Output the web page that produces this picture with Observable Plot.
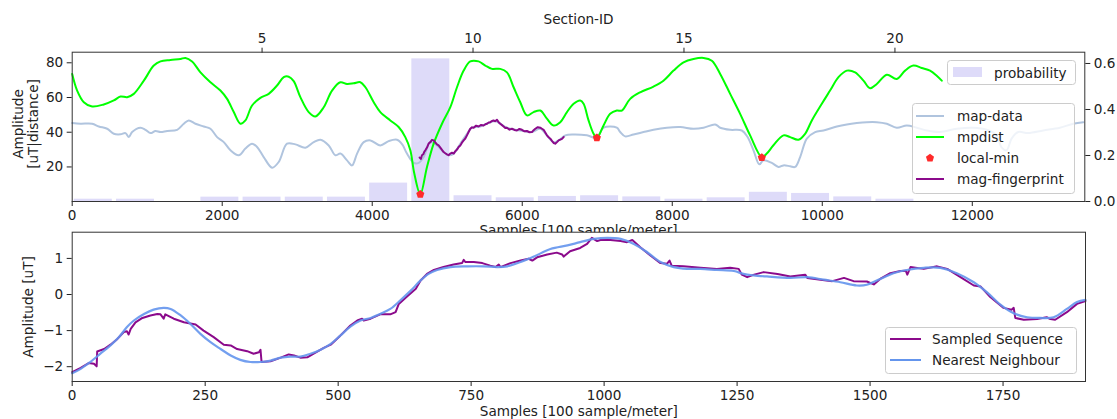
<!DOCTYPE html>
<html><head><meta charset="utf-8">
<script src="https://cdn.jsdelivr.net/npm/d3@7"></script>
<script src="https://cdn.jsdelivr.net/npm/@observablehq/plot@0.6"></script>
<style>
body{margin:0;background:#fff;overflow:hidden;}
#root{position:relative;width:1117px;height:419px;font-family:"DejaVu Sans",sans-serif;}
#root svg.layer{position:absolute;left:0;top:0;}
</style></head>
<body><div id="root"></div>
<script>
// ---------- DATA ----------
const sectionIds = [1,2,3,4,5,6,7,8,9,10,11,12,13,14,15,16,17,18,19,20,21,22,23,24];
const probability = [0.010,0.010,0,0.019,0.019,0.019,0.019,0.080,0.620,0.025,0.016,0.022,0.025,0.020,0.010,0.016,0.040,0.035,0.020,0.010,0,0,0,0];
const sectionTicks = [5,10,15,20];
const probTicks = [0,0.2,0.4,0.6];
const sampleTicks = [0,2000,4000,6000,8000,10000,12000];
const ampTicks = [20,40,60,80];
const seqTicks = [0,250,500,750,1000,1250,1500,1750];
const seqAmpTicks = [-2,-1,0,1];

// [sample, amplitude]
const mapData = [[0,45.3],[111,44.9],[266,44.9],[355,43.3],[466,42.0],[555,39.1],[644,38.8],[710,39.5],[755,37.2],[799,40.1],[910,42.6],[977,41.4],[1044,39.5],[1110,40.7],[1177,40.1],[1266,40.7],[1399,41.4],[1488,44.9],[1554,46.8],[1643,44.9],[1754,43.3],[1843,42.0],[1932,37.2],[2021,34.3],[2110,29.6],[2220,26.7],[2309,30.6],[2398,33.4],[2465,31.5],[2553,25.7],[2665,19.6],[2754,22.9],[2864,33.4],[2976,33.0],[3109,31.1],[3220,34.3],[3309,35.7],[3420,32.4],[3509,26.7],[3575,27.7],[3664,23.8],[3731,20.9],[3798,27.7],[3887,34.3],[3976,35.3],[4108,32.4],[4219,34.9],[4330,35.7],[4400,33.0],[4463,27.7],[4552,22.3],[4619,22.3],[4686,25.7],[4775,34.3],[4863,32.4],[4952,28.6],[5019,26.7],[5086,27.7],[5174,33.4],[5263,39.1],[5330,42.6],[5441,43.3],[5530,44.9],[5641,46.4],[5707,44.9],[5796,42.6],[5907,41.4],[6018,40.7],[6129,40.1],[6240,42.0],[6329,38.2],[6418,34.3],[6485,35.3],[6574,38.2],[6685,38.7],[6862,38.2],[6995,36.8],[7084,42.6],[7261,42.6],[7306,40.1],[7372,37.6],[7483,38.7],[7617,40.1],[7750,41.4],[7928,42.6],[8105,43.0],[8283,42.0],[8417,42.6],[8572,44.5],[8639,42.6],[8772,41.4],[8928,41.0],[9000,37.5],[9083,29.6],[9160,21.5],[9216,23.8],[9327,22.3],[9416,20.0],[9483,20.9],[9572,20.4],[9638,20.0],[9705,25.7],[9794,36.3],[9905,40.1],[10016,41.0],[10194,43.3],[10327,44.5],[10460,45.3],[10593,45.8],[10727,45.8],[10860,44.9],[10993,42.6],[11127,43.9],[11260,42.6],[11393,41.0],[11570,40.1],[11793,42.0],[12015,42.6],[12193,41.4],[12326,38.2],[12390,31.3],[12457,29.6],[12524,36.3],[12613,40.1],[12746,39.5],[12946,41.0],[13168,42.6],[13346,44.9],[13480,45.8]];

const mpdist = [[0,73.6],[66,64.0],[155,57.3],[266,54.8],[421,56.0],[555,58.3],[644,60.6],[732,60.2],[821,62.1],[955,69.7],[1088,78.4],[1177,80.8],[1310,81.6],[1443,82.2],[1510,82.8],[1598,80.8],[1710,74.5],[1843,68.8],[1976,64.0],[2065,59.2],[2154,51.6],[2243,44.9],[2309,46.8],[2398,55.4],[2509,59.8],[2620,62.1],[2731,66.9],[2820,71.7],[2887,72.0],[2953,69.4],[3042,60.2],[3153,51.6],[3242,49.1],[3353,54.4],[3464,64.0],[3575,68.8],[3664,67.8],[3753,68.2],[3842,68.8],[3909,65.9],[4020,57.3],[4108,51.6],[4241,46.8],[4352,43.0],[4441,37.2],[4508,29.6],[4561,16.2],[4641,4.3],[4730,20.0],[4819,33.4],[4930,44.9],[5041,54.4],[5130,65.9],[5219,75.5],[5307,80.8],[5418,80.8],[5507,78.4],[5596,76.5],[5707,76.5],[5796,74.5],[5885,65.9],[5974,57.3],[6063,49.7],[6151,51.6],[6240,52.5],[6329,47.8],[6418,43.9],[6507,45.8],[6596,51.6],[6685,56.4],[6773,58.3],[6818,56.4],[6884,46.8],[6951,39.1],[6995,36.8],[7084,43.9],[7172,50.6],[7261,52.5],[7328,52.5],[7439,59.2],[7572,63.0],[7750,66.3],[7883,69.7],[8017,75.5],[8150,80.3],[8283,82.2],[8417,82.8],[8528,81.2],[8639,73.6],[8772,62.1],[8905,50.6],[9038,38.2],[9194,25.7],[9260,27.7],[9349,32.5],[9483,38.2],[9572,37.2],[9682,35.7],[9771,39.1],[9861,46.8],[9994,56.4],[10104,64.0],[10216,71.7],[10327,75.5],[10438,74.5],[10549,69.7],[10638,65.3],[10727,67.8],[10860,73.1],[10993,70.7],[11104,75.5],[11215,78.4],[11326,77.0],[11437,75.5],[11526,72.6],[11593,69.7]];

const localMin = [[4641,4.3],[6995,36.8],[9194,25.4]];

const fingerprint = [[4632,25.4],[4648,24.6],[4663,26.7],[4680,27.3],[4695,28.9],[4708,29.6],[4730,31.2],[4752,33.5],[4775,34.3],[4797,35.6],[4819,35.3],[4841,34.1],[4863,33.0],[4885,32.4],[4908,31.1],[4930,29.8],[4952,28.6],[4974,27.9],[4996,27.3],[5018,26.8],[5041,27.7],[5063,28.2],[5086,27.7],[5108,29.1],[5130,30.0],[5152,31.5],[5174,32.4],[5196,34.0],[5219,35.3],[5241,36.4],[5263,38.2],[5285,40.1],[5307,42.0],[5330,42.8],[5352,42.6],[5385,43.8],[5418,43.3],[5452,44.2],[5485,43.9],[5508,44.6],[5530,44.9],[5552,45.6],[5574,45.8],[5596,46.5],[5618,46.8],[5640,46.3],[5663,47.2],[5685,45.8],[5707,44.9],[5730,44.1],[5752,43.3],[5774,42.4],[5796,42.6],[5830,41.5],[5863,42.0],[5896,41.3],[5929,41.0],[5962,41.9],[5996,41.4],[6030,40.5],[6063,40.7],[6096,40.0],[6129,40.1],[6152,41.2],[6174,42.0],[6207,42.9],[6240,42.6],[6262,42.0],[6285,41.4],[6307,39.8],[6329,38.2],[6352,37.1],[6374,36.3],[6396,35.0],[6418,33.8],[6440,33.4],[6463,34.3],[6485,35.3],[6507,35.7],[6530,36.2],[6552,37.2]];

// [sample, amplitude uT]
const sampled = [[0,-2.15],[16,-2.03],[31,-1.90],[41,-1.92],[46,-1.99],[47,-1.58],[60,-1.51],[72,-1.39],[85,-1.23],[97,-1.04],[103,-1.02],[106,-1.11],[110,-0.95],[119,-0.77],[132,-0.65],[147,-0.58],[160,-0.54],[166,-0.55],[172,-0.67],[175,-0.55],[191,-0.67],[210,-0.77],[232,-0.83],[247,-1.00],[266,-1.18],[285,-1.39],[298,-1.41],[310,-1.51],[329,-1.57],[341,-1.64],[351,-1.60],[354,-1.53],[356,-1.87],[373,-1.85],[392,-1.75],[407,-1.66],[417,-1.69],[429,-1.75],[442,-1.74],[454,-1.64],[473,-1.48],[486,-1.39],[504,-1.14],[523,-0.86],[536,-0.72],[545,-0.67],[548,-0.72],[561,-0.67],[579,-0.55],[598,-0.55],[608,-0.49],[614,-0.26],[630,-0.05],[646,0.16],[655,0.39],[667,0.57],[680,0.68],[698,0.76],[717,0.83],[733,0.87],[736,0.96],[739,0.90],[755,0.90],[771,0.87],[786,0.80],[796,0.76],[802,0.83],[805,0.76],[824,0.87],[843,0.94],[858,0.99],[865,0.94],[874,1.03],[893,1.11],[911,1.16],[921,1.11],[924,1.05],[936,1.20],[955,1.29],[968,1.40],[977,1.57],[987,1.48],[993,1.51],[1012,1.51],[1031,1.48],[1043,1.45],[1053,1.51],[1068,1.31],[1087,1.08],[1106,0.87],[1118,0.85],[1123,0.94],[1127,0.80],[1149,0.78],[1181,0.74],[1212,0.71],[1237,0.74],[1253,0.71],[1259,0.55],[1269,0.48],[1282,0.55],[1300,0.62],[1326,0.57],[1350,0.50],[1378,0.55],[1382,0.46],[1407,0.41],[1429,0.37],[1451,0.46],[1469,0.37],[1494,0.36],[1507,0.28],[1519,0.43],[1538,0.59],[1557,0.65],[1567,0.66],[1570,0.55],[1576,0.76],[1601,0.71],[1626,0.78],[1645,0.71],[1670,0.48],[1695,0.25],[1708,0.22],[1726,-0.07],[1751,-0.37],[1766,-0.42],[1770,-0.37],[1773,-0.65],[1789,-0.70],[1814,-0.68],[1832,-0.63],[1839,-0.68],[1848,-0.70],[1870,-0.49],[1889,-0.26],[1905,-0.18]];

const nearest = [[0,-2.18],[16,-2.06],[34,-1.87],[53,-1.64],[72,-1.41],[88,-1.18],[103,-0.90],[116,-0.72],[135,-0.54],[153,-0.42],[172,-0.37],[185,-0.40],[204,-0.58],[222,-0.81],[241,-1.09],[260,-1.32],[279,-1.51],[298,-1.69],[316,-1.81],[335,-1.87],[354,-1.87],[373,-1.83],[392,-1.75],[410,-1.72],[429,-1.72],[448,-1.64],[467,-1.53],[486,-1.37],[504,-1.14],[523,-0.89],[542,-0.72],[561,-0.65],[579,-0.54],[598,-0.40],[617,-0.16],[636,0.10],[655,0.39],[670,0.57],[686,0.68],[711,0.76],[743,0.78],[774,0.78],[799,0.76],[818,0.78],[843,0.90],[868,1.05],[899,1.26],[931,1.36],[955,1.45],[981,1.54],[1006,1.57],[1031,1.54],[1056,1.40],[1081,1.17],[1106,0.90],[1131,0.76],[1156,0.71],[1181,0.71],[1212,0.68],[1244,0.65],[1262,0.57],[1281,0.53],[1306,0.50],[1350,0.46],[1382,0.48],[1413,0.41],[1444,0.34],[1475,0.25],[1494,0.27],[1519,0.43],[1544,0.59],[1569,0.68],[1601,0.74],[1632,0.74],[1663,0.59],[1695,0.34],[1720,0.06],[1745,-0.28],[1770,-0.52],[1795,-0.63],[1820,-0.65],[1845,-0.63],[1870,-0.40],[1889,-0.21],[1905,-0.15]];

// ---------- STYLE / LAYOUT ----------
const W = 1117, H = 419;
const FS = 13.6;
const ink = "#222";
const C = {bars:"#dedbf9", map:"#b0c4de", mpdist:"#00ff00", minDot:"#ff2a2a", fp:"#8b0a8b", seq:"#8b0a8b", nn:"cornflowerblue"};
const baseStyle = {background:"transparent", fontFamily:"'DejaVu Sans', sans-serif", fontSize: FS+"px", color: ink, overflow:"visible"};
const topM = {marginLeft:71.7, marginRight:W-1084.3, marginTop:51.7, marginBottom:H-201};
const botM = {marginLeft:71.7, marginRight:W-1085, marginTop:231.7, marginBottom:H-381};
const intFmt = d => (d < 0 ? "\u2212" : "") + Math.abs(d);

const pentagon = {draw(ctx, size){const r=Math.sqrt(size/Math.PI)*1.12;for(let i=0;i<5;i++){const a=-Math.PI/2+i*2*Math.PI/5;const x=r*Math.cos(a),y=r*Math.sin(a);i?ctx.lineTo(x,y):ctx.moveTo(x,y);}ctx.closePath();}};

const root = document.getElementById("root");
function add(svg){svg.classList.add("layer");root.appendChild(svg);return svg;}

// Layer A: probability bars (right axis) + Section-ID axis (top)
const probRows = sectionIds.map((id,i)=>({id, p:probability[i]}));
add(Plot.plot({
  width:W, height:H, ...topM, style:baseStyle,
  x:{domain:[0.5,24.5]}, y:{domain:[0,0.649]},
  marks:[
    Plot.rect(probRows,{x1:d=>d.id-0.45, x2:d=>d.id+0.45, y1:0, y2:"p", fill:C.bars}),
    Plot.axisX({anchor:"top", ticks:sectionTicks, tickFormat:intFmt, tickSize:5, tickPadding:4, label:null}),
    Plot.axisY({anchor:"right", ticks:probTicks, tickFormat:d3.format(".1f"), tickSize:5, tickPadding:4, label:null}),
    Plot.text(["Section-ID"],{text:d=>d, frameAnchor:"top", dy:-32.7, lineAnchor:"middle", fontSize:FS, fill:ink})
  ]
}));

// Layer B: amplitude lines (left axis) + samples axis (bottom)
add(Plot.plot({
  width:W, height:H, ...topM, style:baseStyle,
  x:{domain:[0,13500]}, y:{domain:[0.1,86.1]},
  marks:[
    Plot.line(mapData,{x:d=>d[0], y:d=>d[1], stroke:C.map, strokeWidth:2, curve:"catmull-rom"}),
    Plot.line(mpdist,{x:d=>d[0], y:d=>d[1], stroke:C.mpdist, strokeWidth:2, curve:"catmull-rom"}),
    Plot.line(fingerprint,{x:d=>d[0], y:d=>d[1], stroke:C.fp, strokeWidth:2}),
    Plot.dot(localMin,{x:d=>d[0], y:d=>d[1], symbol:pentagon, r:3.8, fill:C.minDot, stroke:"none"}),
    Plot.axisX({ticks:sampleTicks, tickFormat:intFmt, tickSize:5, tickPadding:4, label:null}),
    Plot.axisY({ticks:ampTicks, tickFormat:intFmt, tickSize:5, tickPadding:4, label:null}),
    Plot.text(["Samples [100 sample/meter]"],{text:d=>d, frameAnchor:"bottom", dy:29, lineAnchor:"middle", fontSize:FS, fill:ink}),
    Plot.frame({stroke:"#333"})
  ]
}));

// Layer C: bottom panel
add(Plot.plot({
  width:W, height:H, ...botM, style:baseStyle,
  x:{domain:[0,1905]}, y:{domain:[-2.41,1.726]},
  marks:[
    Plot.frame({fill:"white", stroke:"none"}),
    Plot.line(sampled,{x:d=>d[0], y:d=>d[1], stroke:C.seq, strokeWidth:2}),
    Plot.line(nearest,{x:d=>d[0], y:d=>d[1], stroke:C.nn, strokeWidth:2.2, strokeOpacity:0.9, curve:"catmull-rom"}),
    Plot.axisX({ticks:seqTicks, tickFormat:intFmt, tickSize:5, tickPadding:4, label:null}),
    Plot.axisY({ticks:seqAmpTicks, tickFormat:intFmt, tickSize:5, tickPadding:4, label:null}),
    Plot.text(["Samples [100 sample/meter]"],{text:d=>d, frameAnchor:"bottom", dy:30, lineAnchor:"middle", fontSize:FS, fill:ink}),
    Plot.frame({stroke:"#333"})
  ]
}));

// Overlay: rotated y-axis titles and legends
const over = d3.create("svg").attr("width",W).attr("height",H).attr("class","layer")
  .style("font-family","'DejaVu Sans', sans-serif").style("font-size",FS+"px").style("overflow","visible");
function vtitle(x,y,t){over.append("text").attr("transform",`translate(${x},${y}) rotate(-90)`)
  .attr("text-anchor","middle").attr("dominant-baseline","central").attr("fill",ink).text(t);}
vtitle(18.3,124,"Amplitude");
vtitle(33.3,124,"[uT|distance]");
vtitle(28.3,307,"Amplitude [uT]");

function box(x,y,w,h){over.append("rect").attr("x",x).attr("y",y).attr("width",w).attr("height",h).attr("rx",3)
  .attr("fill","white").attr("fill-opacity",0.8).attr("stroke","#cccccc").attr("stroke-width",1);}
function label(x,y,t){over.append("text").attr("x",x).attr("y",y).attr("dominant-baseline","central").attr("fill",ink).text(t);}
function lineSw(x1,x2,y,c,w){over.append("line").attr("x1",x1).attr("x2",x2).attr("y1",y).attr("y2",y).attr("stroke",c).attr("stroke-width",w||2);}

// probability legend
box(947.5,60.5,128,24);
over.append("rect").attr("x",953).attr("y",67).attr("width",29).attr("height",10).attr("fill",C.bars);
label(994,72.5,"probability");

// amplitude legend
const legTop = [["map-data","line",C.map],["mpdist","line",C.mpdist],["local-min","dot",C.minDot],["mag-fingerprint","line",C.fp]];
box(912.5,103.5,162,90);
legTop.forEach(([t,kind,c],i)=>{
  const y = 116 + i*21;
  if(kind==="line") lineSw(916,944,y,c,2);
  else {
    const p = d3.path(); pentagon.draw(p, 3.8*3.8*Math.PI);
    over.append("path").attr("d",p.toString()).attr("transform",`translate(930,${y})`).attr("fill",c);
  }
  label(957,y,t);
});

// bottom legend
const legBot = [["Sampled Sequence",C.seq],["Nearest Neighbour",C.nn]];
box(885.5,327.5,191,46);
legBot.forEach(([t,c],i)=>{
  const y = 339 + i*21;
  lineSw(890,921,y,c,2);
  label(932,y,t);
});
root.appendChild(over.node());
</script>
</body></html>
